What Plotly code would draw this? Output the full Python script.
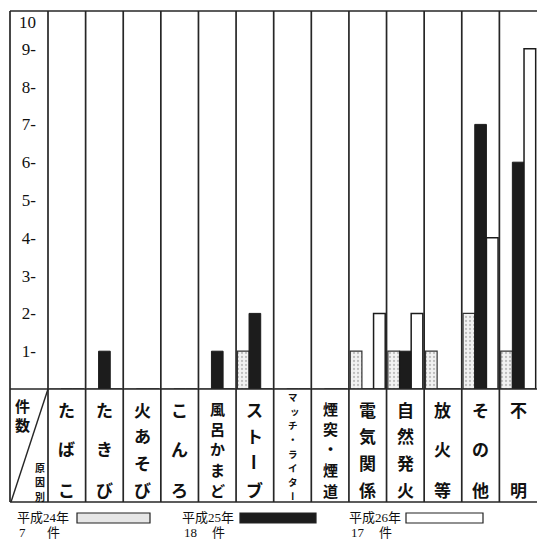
import plotly.graph_objects as go

# ---- data ----
categories = ["たばこ", "たきび", "火あそび", "こんろ", "風呂かまど", "ストーブ",
              "マッチ・ライター", "煙突・煙道", "電気関係", "自然発火", "放火等", "その他", "不明"]
series_names = ["平成24年", "平成25年", "平成26年"]
h24 = [0, 0, 0, 0, 0, 1, 0, 0, 1, 1, 1, 2, 1]
h25 = [0, 1, 0, 0, 1, 2, 0, 0, 0, 1, 0, 7, 6]
h26 = [0, 0, 0, 0, 0, 0, 0, 0, 2, 2, 0, 4, 9]
y_tick_values = [1, 2, 3, 4, 5, 6, 7, 8, 9, 10]
y_tick_labels = ["1-", "2-", "3-", "4-", "5-", "6-", "7-", "8-", "9-", "10"]
header_top = "件数"
header_bottom = "原因別"
count_unit = "件"

# ---- geometry (pixels) ----
W, H = 537, 539
PL, PR, PT, PB = 48, 537, 11, 389   # plot area
LEFT_BORDER = 10
TABLE_BOTTOM = 502


def px2x(px):
    return (px - PL) / (PR - PL)


def py2y(py):
    return (PB - py) / (PB - PT)


LINE = dict(color="#262626", width=1.7)
CJK = "Noto Sans CJK JP"
SERIF = "Liberation Serif, Noto Sans CJK JP"

fig = go.Figure()
fig.add_trace(go.Bar(
    x=categories, y=h24, name=series_names[0],
    marker=dict(color="#f2f2f2",
                pattern=dict(shape=".", fgcolor="#8a8a8a", bgcolor="#f2f2f2", size=4, solidity=0.25),
                line=dict(color="#333333", width=1.2)),
))
fig.add_trace(go.Bar(
    x=categories, y=h25, name=series_names[1],
    marker=dict(color="#1c1c1c", line=dict(color="#1c1c1c", width=1)),
))
fig.add_trace(go.Bar(
    x=categories, y=h26, name=series_names[2],
    marker=dict(color="#ffffff", line=dict(color="#1c1c1c", width=1.5)),
))

shapes = []
ncat = len(categories)
# vertical column lines
for k in range(ncat):
    shapes.append(dict(type="line", xref="paper", yref="paper",
                       x0=k / ncat, x1=k / ncat, y0=1, y1=py2y(TABLE_BOTTOM), line=LINE))
# left border
shapes.append(dict(type="line", xref="paper", yref="paper",
                   x0=px2x(LEFT_BORDER), x1=px2x(LEFT_BORDER), y0=1, y1=py2y(TABLE_BOTTOM), line=LINE))
# horizontal lines
for yy in [PT, PB, TABLE_BOTTOM]:
    shapes.append(dict(type="line", xref="paper", yref="paper",
                       x0=px2x(LEFT_BORDER), x1=1, y0=py2y(yy), y1=py2y(yy), line=LINE))
# diagonal in header cell
shapes.append(dict(type="line", xref="paper", yref="paper",
                   x0=px2x(LEFT_BORDER + 1), y0=py2y(TABLE_BOTTOM),
                   x1=px2x(PL), y1=py2y(PB), line=dict(color="#262626", width=1.4)))

annotations = []


def txt(x, y, text, size, family=CJK, bold=False, xanchor="center", xref="paper", **kw):
    d = dict(xref=xref, yref="paper", x=x, y=y, text=text, showarrow=False,
             xanchor=xanchor, yanchor="middle",
             font=dict(family=family, size=size, color="#111", weight="bold" if bold else "normal"))
    d.update(kw)
    annotations.append(d)


# "10" label at top of axis
annotations.append(dict(xref="paper", yref="y", x=px2x(38), y=y_tick_values[-1], yshift=-11,
                        text=y_tick_labels[-1], showarrow=False, xanchor="right", yanchor="middle",
                        font=dict(family=SERIF, size=17, color="#111")))

# header cell texts
for i, ch in enumerate(header_top):
    txt(px2x(22), py2y(405 + i * 19), ch, 15, bold=True)
for i, ch in enumerate(header_bottom):
    txt(px2x(40), py2y(467 + i * 14.5), ch, 10, bold=True)

# category labels, written vertically
for cat in categories:
    chars = list(cat)
    n = len(chars)
    if n >= 7:
        top, bot, fs = 397, 496, 9.5
    elif n == 5:
        top, bot, fs = 408, 490, 15
    else:
        top, bot, fs = 409, 489, 17
    for i, ch in enumerate(chars):
        py = top + (bot - top) * i / (n - 1)
        extra = {}
        if ch == "ー":
            extra["textangle"] = 90
        if ch == "ッ":
            extra["xshift"] = 2
        txt(cat, py2y(py), ch, fs, bold=True, xref="x", **extra)

# legend (drawn manually)
totals = [sum(h24), sum(h25), sum(h26)]
legend_text_x = [15, 180, 347]
legend_box_x = [(77, 150), (240, 316), (406, 483)]
legend_fill = ["#e6e6e6", "#1c1c1c", "#ffffff"]
for name, tot, tx, (bx0, bx1), fill in zip(series_names, totals, legend_text_x, legend_box_x, legend_fill):
    txt(px2x(tx), py2y(517), name, 13, family=SERIF, xanchor="left")
    txt(px2x(tx + 2), py2y(532), str(tot), 13, family=SERIF, xanchor="left")
    txt(px2x(tx + 30), py2y(532), count_unit, 13, family=SERIF, xanchor="left")
    shapes.append(dict(type="rect", xref="paper", yref="paper",
                       x0=px2x(bx0), x1=px2x(bx1), y0=py2y(513), y1=py2y(523),
                       fillcolor=fill, line=dict(color="#222", width=1.2)))

fig.update_layout(
    width=W, height=H,
    margin=dict(l=PL, r=W - PR, t=PT, b=H - PB, autoexpand=False),
    paper_bgcolor="white", plot_bgcolor="white",
    barmode="group", bargap=0.07, bargroupgap=0.0,
    showlegend=False,
    shapes=shapes, annotations=annotations,
    xaxis=dict(type="category", range=[-0.5, ncat - 0.5], showticklabels=False,
               showgrid=False, zeroline=False, showline=False, ticks=""),
    yaxis=dict(range=[0, 10], tickvals=y_tick_values[:-1], ticktext=y_tick_labels[:-1],
               ticks="", showgrid=False, zeroline=False, showline=False,
               ticklabelstandoff=11,
               tickfont=dict(family=SERIF, size=17, color="#111")),
)

fig.write_html("out.html", config={"displayModeBar": False},
               post_script="document.body.style.margin='0px';document.body.style.overflow='hidden';")
